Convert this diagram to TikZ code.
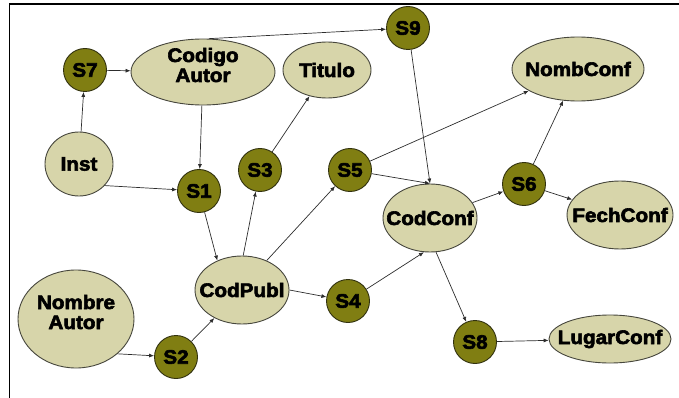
\documentclass[tikz,border=0pt]{standalone}
\usepackage{fontspec}
\newfontfamily\heavy{Liberation Sans Bold}[FakeBold=3,FakeStretch=1.06]
\usetikzlibrary{shapes.geometric,arrows.meta}
\newcommand{\zbx}[1]{\makebox[0pt]{#1}}
\newcommand{\zsm}[1]{\smash{\makebox[0pt]{#1}}}
\definecolor{ellfill}{RGB}{215,213,170}
\definecolor{ellline}{RGB}{70,70,60}
\definecolor{circfill}{RGB}{128,126,18}
\definecolor{circline}{RGB}{50,50,15}
\definecolor{edgecol}{RGB}{45,45,45}
\begin{document}
\begin{tikzpicture}[x=1pt,y=-1pt,
  attr/.style={ellipse,draw=ellline,line width=0.9pt,fill=ellfill,inner sep=0pt,
    font=\heavy\fontsize{19.5}{20}\selectfont,align=center},
  rel/.style={circle,draw=circline,line width=0.9pt,fill=circfill,inner sep=0pt,
    minimum size=43pt,font=\heavy\fontsize{19.5}{20}\selectfont},
  conn/.style={draw=edgecol,line width=0.7pt,-{Latex[length=5pt,width=4pt]}}]
\useasboundingbox (0,0) rectangle (679,398);
\draw[line width=1.2pt] (9.5,398) -- (9.5,4) -- (679,4);
% attributes
\node[attr,minimum width=144pt,minimum height=66pt] (CodA) at (203,72) {\zsm{Codigo}\\\zsm{Autor}};
\node[attr,minimum width=88pt,minimum height=56pt] (Tit) at (327,70) {\zbx{Titulo}};
\node[attr,minimum width=132pt,minimum height=64pt] (NomC) at (578,69) {\zbx{NombConf}};
\node[attr,minimum width=68pt,minimum height=64pt] (Inst) at (79,164) {\zbx{Inst}};
\node[attr,minimum width=94pt,minimum height=68pt] (CodP) at (242,290) {\zbx{CodPubl}};
\node[attr,minimum width=94pt,minimum height=68pt] (CodC) at (430,218) {\zbx{CodConf}};
\node[attr,minimum width=106pt,minimum height=68pt] (FecC) at (620,215) {\zbx{FechConf}};
\node[attr,minimum width=122pt,minimum height=48pt] (LugC) at (610,339) {\zbx{LugarConf}};
\node[attr,minimum width=116pt,minimum height=98pt] (NomA) at (76,319) {\zsm{Nombre}\\\zsm{Autor}};
% relationships
\node[rel] (S7) at (85,70) {S7};
\node[rel] (S9) at (408,28) {S9};
\node[rel] (S1) at (199,191) {S1};
\node[rel] (S3) at (260,170) {S3};
\node[rel] (S5) at (350,170) {S5};
\node[rel] (S6) at (524,184) {S6};
\node[rel] (S4) at (348,301) {S4};
\node[rel] (S8) at (475,342) {S8};
\node[rel] (S2) at (176,357) {S2};
% connectors
\draw[conn] (S7) -- (CodA);
\draw[conn] (Inst) -- (S7);
\draw[conn] (CodA.80) -- (S9);
\draw[conn] (CodA) -- (S1);
\draw[conn] (Inst.-40) -- (S1);
\draw[conn] (S1) -- (CodP.130);
\draw[conn] (CodP.88) -- (S3);
\draw[conn] (CodP.50) -- (S5);
\draw[conn] (CodP.east) -- (S4);
\draw[conn] (S2) -- (CodP);
\draw[conn] (S3) -- (Tit);
\draw[conn] (S5) -- (NomC);
\draw[conn] (S5) -- (CodC.north);
\draw[conn] (S9) -- (CodC.north);
\draw[conn] (S4) -- (CodC.-100);
\draw[conn] (CodC) -- (S6);
\draw[conn] (S6) -- (NomC);
\draw[conn] (S6) -- (FecC);
\draw[conn] (CodC.-80) -- (S8);
\draw[conn] (S8) -- (LugC);
\draw[conn] (NomA.-40) -- (S2);
\end{tikzpicture}
\end{document}
